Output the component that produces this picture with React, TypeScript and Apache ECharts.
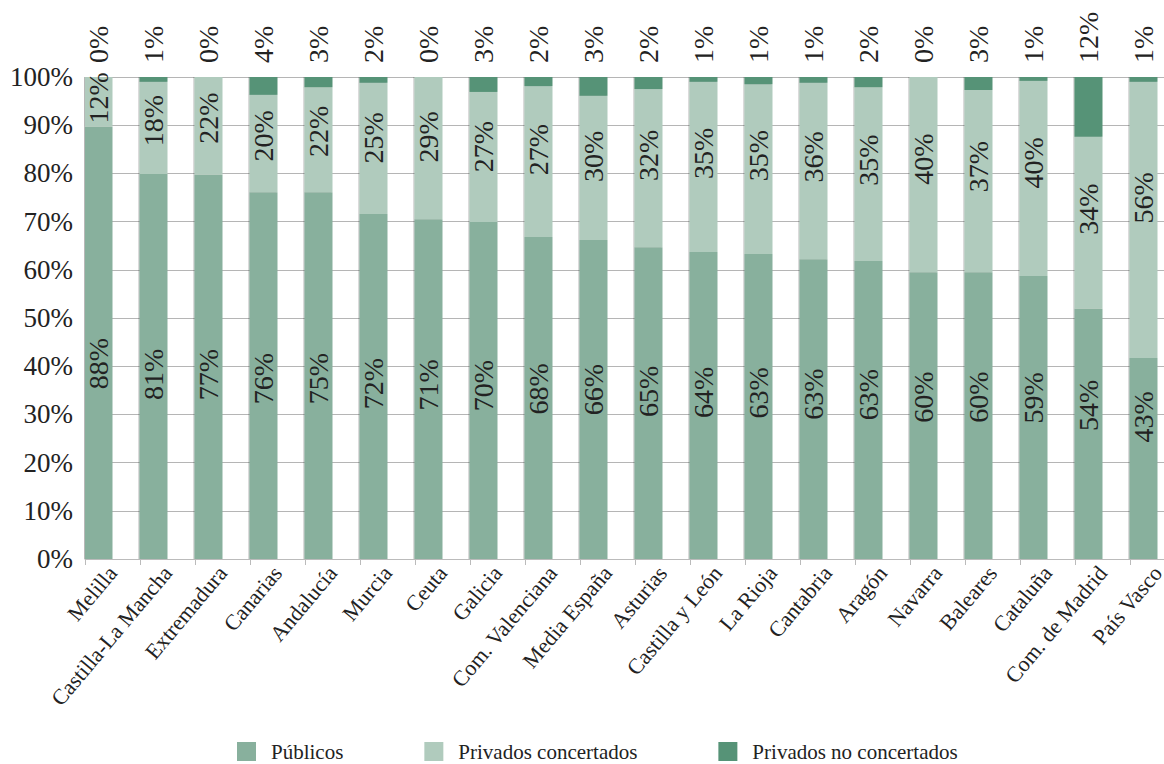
import React, { useEffect, useRef } from "react";
import * as echarts from "echarts";

const categories = [
  "Melilla", "Castilla-La Mancha", "Extremadura", "Canarias", "Andalucía",
  "Murcia", "Ceuta", "Galicia", "Com. Valenciana", "Media España",
  "Asturias", "Castilla y León", "La Rioja", "Cantabria", "Aragón",
  "Navarra", "Baleares", "Cataluña", "Com. de Madrid", "País Vasco",
];

// Bar shares (%) as drawn
const publicos = [89.7, 79.9, 79.7, 76.1, 76.1, 71.6, 70.5, 69.9, 66.8, 66.2, 64.7, 63.7, 63.3, 62.2, 61.8, 59.5, 59.5, 58.7, 51.9, 41.7];
const concertados = [10.3, 19.1, 20.3, 20.2, 21.8, 27.2, 29.5, 27.0, 31.3, 29.9, 32.8, 35.3, 35.2, 36.6, 36.1, 40.5, 37.8, 40.5, 35.7, 57.3];
const noConcertados = [0, 1.0, 0, 3.7, 2.1, 1.2, 0, 3.1, 1.9, 3.9, 2.5, 1.0, 1.5, 1.2, 2.1, 0, 2.7, 0.8, 12.4, 1.0];

// Printed labels (%)
const publicosLabels = [88, 81, 77, 76, 75, 72, 71, 70, 68, 66, 65, 64, 63, 63, 63, 60, 60, 59, 54, 43];
const concertadosLabels = [12, 18, 22, 20, 22, 25, 29, 27, 27, 30, 32, 35, 35, 36, 35, 40, 37, 40, 34, 56];
const noConcertadosLabels = [0, 1, 0, 4, 3, 2, 0, 3, 2, 3, 2, 1, 1, 1, 2, 0, 3, 1, 12, 1];

const seriesNames = ["Públicos", "Privados concertados", "Privados no concertados"];
const colors = ["#88b09d", "#b0cbbd", "#569377"];
const FONT = "Liberation Serif";

export default function App() {
  const ref = useRef<HTMLDivElement>(null);

  useEffect(() => {
    if (!ref.current) return;
    const chart = echarts.init(ref.current, undefined, { renderer: "svg" });
    const shadow = {
      shadowColor: "rgba(0,0,0,0.28)",
      shadowOffsetX: -1,
      shadowOffsetY: 0,
      shadowBlur: 0,
    };
    const labelBase = {
      show: true,
      rotate: 90,
      fontFamily: FONT,
      fontSize: 28,
      color: "#222",
      align: "center",
      verticalAlign: "middle",
    };
    chart.setOption({
      animation: false,
      textStyle: { fontFamily: FONT },
      grid: { left: 85, top: 77, width: 1100, height: 482, containLabel: false },
      legend: {
        data: seriesNames,
        left: 237,
        top: 741,
        padding: 0,
        itemWidth: 19,
        itemHeight: 19,
        itemGap: 81,
        icon: "rect",
        textStyle: { fontFamily: FONT, fontSize: 21, lineHeight: 21, color: "#222", padding: [0, 0, 0, 10] },
      },
      xAxis: {
        type: "category",
        data: categories,
        boundaryGap: true,
        axisLine: { lineStyle: { color: "#bbbbbb", width: 1 } },
        axisTick: { show: true, length: 6, lineStyle: { color: "#bbbbbb" } },
        axisLabel: {
          rotate: 50,
          interval: 0,
          margin: 10,
          fontFamily: FONT,
          fontSize: 22,
          color: "#222",
        },
      },
      yAxis: {
        type: "value",
        min: 0,
        max: 100,
        interval: 10,
        axisLine: { show: false },
        axisTick: { show: false },
        axisLabel: {
          formatter: "{value}%",
          margin: 12,
          fontFamily: FONT,
          fontSize: 27,
          color: "#222",
        },
        splitLine: { lineStyle: { color: "#b5b5b5", width: 1 } },
      },
      series: [
        {
          name: seriesNames[0],
          type: "bar",
          stack: "total",
          barWidth: 28,
          barGap: "0%",
          data: publicos,
          itemStyle: { color: colors[0], ...shadow },
          label: {
            ...labelBase,
            position: ["50%", "77%"],
            offset: [96, 0],
            formatter: (p: any) => publicosLabels[p.dataIndex] + "%",
          },
        },
        {
          name: seriesNames[1],
          type: "bar",
          stack: "total",
          barWidth: 28,
          barGap: "0%",
          data: concertados,
          itemStyle: { color: colors[1], ...shadow },
          label: {
            ...labelBase,
            position: ["50%", "42%"],
            formatter: (p: any) => concertadosLabels[p.dataIndex] + "%",
          },
        },
        {
          name: seriesNames[2],
          type: "bar",
          stack: "total",
          barWidth: 28,
          barGap: "0%",
          data: noConcertados,
          itemStyle: { color: colors[2], ...shadow },
          label: {
            ...labelBase,
            position: "top",
            distance: 14,
            align: "left",
            verticalAlign: "middle",
            formatter: (p: any) => noConcertadosLabels[p.dataIndex] + "%",
          },
        },
        {
          name: "pad",
          type: "bar",
          stack: "pad",
          barWidth: 28,
          barGap: "0%",
          data: [],
        },
      ],
    });
    return () => chart.dispose();
  }, []);

  return (
    <div
      style={{ position: "absolute", left: 0, top: 0, width: 1164, height: 764, overflow: "hidden" }}
    >
      <div ref={ref} style={{ width: 1190, height: 764 }} />
    </div>
  );
}
